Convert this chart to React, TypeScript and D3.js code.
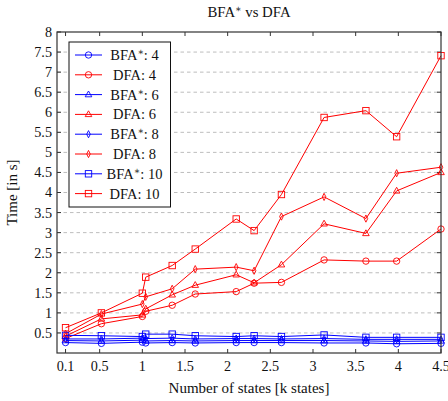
import * as d3 from 'd3';

// number of states (k states) and run times (s)
const xStates = [0.1, 0.52, 1.0, 1.04, 1.35, 1.62, 2.1, 2.31, 2.63, 3.13, 3.62, 3.98, 4.5];
const bfa4 = [0.26, 0.24, 0.27, 0.25, 0.26, 0.25, 0.26, 0.26, 0.26, 0.25, 0.25, 0.23, 0.24];
const dfa4 = [0.36, 0.73, 0.91, 1.04, 1.19, 1.47, 1.53, 1.74, 1.76, 2.32, 2.29, 2.29, 3.09];
const bfa6 = [0.31, 0.3, 0.32, 0.3, 0.31, 0.3, 0.31, 0.31, 0.31, 0.31, 0.3, 0.29, 0.3];
const dfa6 = [0.42, 0.85, 0.95, 1.1, 1.45, 1.69, 1.95, 1.75, 2.2, 3.22, 2.98, 4.04, 4.5];
const bfa8 = [0.35, 0.35, 0.37, 0.36, 0.37, 0.35, 0.36, 0.36, 0.35, 0.36, 0.34, 0.34, 0.34];
const dfa8 = [0.48, 0.97, 1.22, 1.4, 1.6, 2.09, 2.14, 2.05, 3.4, 3.89, 3.35, 4.48, 4.63];
const bfa10 = [0.44, 0.43, 0.41, 0.47, 0.47, 0.43, 0.41, 0.43, 0.41, 0.45, 0.39, 0.39, 0.39];
const dfa10 = [0.63, 1.0, 1.49, 1.89, 2.18, 2.59, 3.34, 3.05, 3.95, 5.87, 6.04, 5.39, 7.41];

const xTicks = [0.1, 0.5, 1, 1.5, 2, 2.5, 3, 3.5, 4, 4.5];
const yTicks = [0.5, 1, 1.5, 2, 2.5, 3, 3.5, 4, 4.5, 5, 5.5, 6, 6.5, 7, 7.5, 8];

type Shape = 'circle' | 'triangle' | 'diamond' | 'square';

const series: { algo: string; n: number; values: number[]; color: string; shape: Shape }[] = [
  { algo: 'BFA', n: 4, values: bfa4, color: '#0000ff', shape: 'circle' },
  { algo: 'DFA', n: 4, values: dfa4, color: '#ff0000', shape: 'circle' },
  { algo: 'BFA', n: 6, values: bfa6, color: '#0000ff', shape: 'triangle' },
  { algo: 'DFA', n: 6, values: dfa6, color: '#ff0000', shape: 'triangle' },
  { algo: 'BFA', n: 8, values: bfa8, color: '#0000ff', shape: 'diamond' },
  { algo: 'DFA', n: 8, values: dfa8, color: '#ff0000', shape: 'diamond' },
  { algo: 'BFA', n: 10, values: bfa10, color: '#0000ff', shape: 'square' },
  { algo: 'DFA', n: 10, values: dfa10, color: '#ff0000', shape: 'square' },
];

const W = 448;
const H = 401;
const font = '"Liberation Serif", "DejaVu Serif", serif';

function Marker({ shape, x, y, color }: { shape: Shape; x: number; y: number; color: string }) {
  const common = { fill: 'none', stroke: color, strokeWidth: 0.9 };
  if (shape === 'circle') return <circle cx={x} cy={y} r={3.2} {...common} />;
  if (shape === 'square') return <rect x={x - 3.2} y={y - 3.2} width={6.4} height={6.4} {...common} />;
  if (shape === 'triangle')
    return <path d={`M${x},${y - 3.6}L${x + 3.3},${y + 2.2}L${x - 3.3},${y + 2.2}Z`} {...common} />;
  return <path d={`M${x},${y - 3.6}L${x + 1.8},${y}L${x},${y + 3.6}L${x - 1.8},${y}Z`} {...common} />;
}

function Label({ algo, n }: { algo: string; n: number }) {
  if (algo === 'BFA')
    return (
      <>
        BFA<tspan fontSize={9.5} dy={-5}>∗</tspan>
        <tspan dy={5}>: {n}</tspan>
      </>
    );
  return <>DFA: {n}</>;
}

export default function App() {
  const x = d3.scaleLinear().domain([0, 4.5]).range([57, 441]);
  const y = d3.scaleLinear().domain([0, 8]).range([353, 32]);
  const [x0, x1] = x.range();
  const [yb, yt] = y.range();

  const line = d3
    .line<number>()
    .x((_, i) => x(xStates[i]))
    .y((d) => y(d));

  const legX = 69;
  const legY = 42;
  const rowH = 19.8;

  return (
    <svg
      width={W}
      height={H}
      style={{ position: 'absolute', left: 0, top: 0, background: '#fff' }}
      fontFamily={font}
    >
      {/* grid */}
      {yTicks
        .filter((t) => t < 8)
        .map((t) => (
          <line
            key={t}
            x1={x0}
            x2={x1}
            y1={y(t)}
            y2={y(t)}
            stroke="#bdbdbd"
            strokeWidth={1}
            strokeDasharray="3.5,3"
          />
        ))}

      {/* ticks */}
      {yTicks.map((t) => (
        <g key={t}>
          <line x1={x0} x2={x0 + 4} y1={y(t)} y2={y(t)} stroke="#333" />
          <line x1={x1 - 4} x2={x1} y1={y(t)} y2={y(t)} stroke="#333" />
          <text x={52} y={y(t)} dy="0.35em" textAnchor="end" fontSize={14.2} fill="#111">
            {t}
          </text>
        </g>
      ))}
      {xTicks.map((t) => (
        <g key={t}>
          <line x1={x(t)} x2={x(t)} y1={yb} y2={yb - 4} stroke="#333" />
          <line x1={x(t)} x2={x(t)} y1={yt} y2={yt + 4} stroke="#333" />
          <text x={x(t)} y={371} textAnchor="middle" fontSize={14.2} fill="#111">
            {t}
          </text>
        </g>
      ))}

      {/* series */}
      {series.map((s, si) => (
        <g key={si}>
          <path d={line(s.values) || ''} fill="none" stroke={s.color} strokeWidth={1} />
          {s.values.map((v, i) => (
            <Marker key={i} shape={s.shape} x={x(xStates[i])} y={y(v)} color={s.color} />
          ))}
        </g>
      ))}

      {/* frame */}
      <rect x={x0} y={yt} width={x1 - x0} height={yb - yt} fill="none" stroke="#333" strokeWidth={1.2} />

      {/* legend */}
      <rect x={legX} y={legY} width={101.5} height={165} fill="#fff" stroke="#111" strokeWidth={1} />
      {series.map((s, i) => {
        const cy = legY + 13 + i * rowH;
        return (
          <g key={i}>
            <line x1={75} x2={102} y1={cy} y2={cy} stroke={s.color} strokeWidth={1} />
            <Marker shape={s.shape} x={88.5} y={cy} color={s.color} />
            <text x={134.5} y={cy} dy="0.35em" textAnchor="middle" fontSize={14.5} fill="#111">
              <Label algo={s.algo} n={s.n} />
            </text>
          </g>
        );
      })}

      {/* titles */}
      <text x={249} y={17} textAnchor="middle" fontSize={14.8} fill="#111">
        BFA<tspan fontSize={9.5} dy={-5}>∗</tspan>
        <tspan dy={5}> vs DFA</tspan>
      </text>
      <text x={249} y={393} textAnchor="middle" fontSize={15} fill="#111">
        Number of states [k states]
      </text>
      <text
        transform={`translate(17,${(yb + yt) / 2}) rotate(-90)`}
        textAnchor="middle"
        fontSize={15}
        fill="#111"
      >
        Time [in s]
      </text>
    </svg>
  );
}
